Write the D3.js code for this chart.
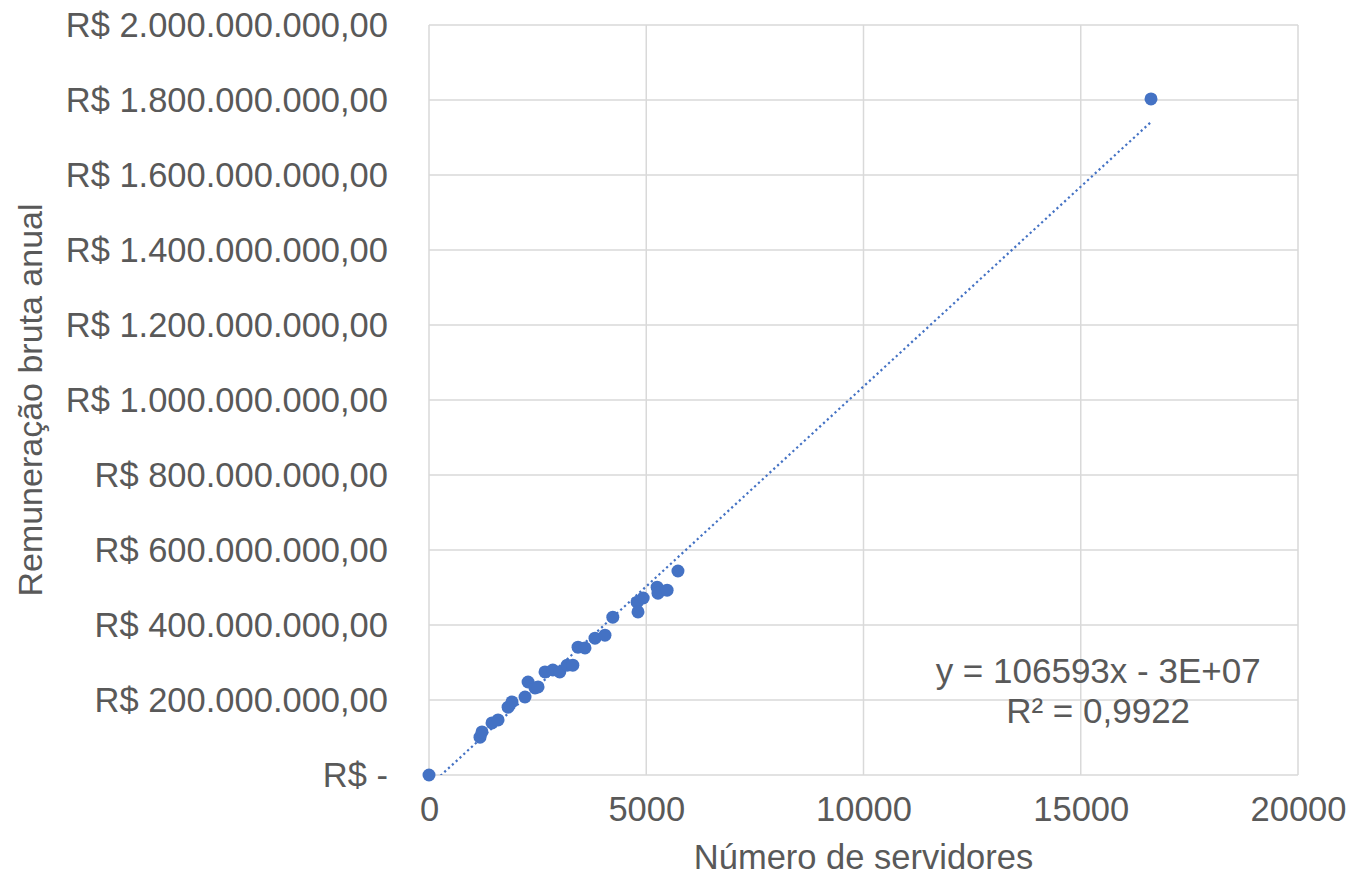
<!DOCTYPE html>
<html>
<head>
<meta charset="utf-8">
<script src="https://cdn.jsdelivr.net/npm/d3@7"></script>
<style>
  body { margin: 0; background: #fff; }
  text { font-family: "Liberation Sans", Arial, sans-serif; fill: #595959; }
</style>
</head>
<body>
<svg id="chart"></svg>
<script>
// servidores x remuneração
var servidores = [0, 1174, 1220, 1450, 1590, 1820, 1910, 2210, 2280, 2440, 2510, 2670, 2850, 3010,
                  3180, 3310, 3430, 3590, 3820, 4050, 4230, 4790, 4810, 4930, 5250, 5270, 5480, 5730, 16617];
var remuneracao = [0, 101e6, 115e6, 139e6, 147e6, 181e6, 195e6, 208e6, 248e6, 232e6, 235e6, 275e6, 280e6, 275e6,
                   293e6, 293e6, 341e6, 339e6, 365e6, 373e6, 421e6, 461e6, 435e6, 472e6, 501e6, 485e6, 493e6, 544e6, 1803e6];

var xTicks = [0, 5000, 10000, 15000, 20000];
var yTicks = [0, 2e8, 4e8, 6e8, 8e8, 1e9, 1.2e9, 1.4e9, 1.6e9, 1.8e9, 2e9];

var slope = 106593, intercept = -3e7;
var eqText = "y = 106593x - 3E+07";
var r2Text = "R² = 0,9922";

var W = 1351, H = 878;
var margin = {top: 25, right: 53, bottom: 103, left: 429};
var width = W - margin.left - margin.right,
    height = H - margin.top - margin.bottom;

var svg = d3.select("#chart").attr("width", W).attr("height", H);
var g = svg.append("g").attr("transform", "translate(" + margin.left + "," + margin.top + ")");

var x = d3.scaleLinear().domain([0, 20000]).range([0, width]);
var y = d3.scaleLinear().domain([0, 2e9]).range([height, 0]);

function fmtReal(v) {
  if (v === 0) return "R$ -";
  var s = d3.format(",")(v).replace(/,/g, ".");
  return "R$ " + s + ",00";
}

// gridlines
g.append("g").selectAll("line").data(yTicks).enter().append("line")
  .attr("x1", 0).attr("x2", width)
  .attr("y1", function(d){ return y(d); }).attr("y2", function(d){ return y(d); })
  .attr("stroke", "#d9d9d9").attr("stroke-width", 1.5);
g.append("g").selectAll("line").data(xTicks).enter().append("line")
  .attr("y1", 0).attr("y2", height)
  .attr("x1", function(d){ return x(d); }).attr("x2", function(d){ return x(d); })
  .attr("stroke", "#d9d9d9").attr("stroke-width", 1.5);

// axes (labels only)
var xAxis = g.append("g").attr("transform", "translate(0," + height + ")")
  .call(d3.axisBottom(x).tickValues(xTicks).tickFormat(d3.format("d")).tickSize(0).tickPadding(22));
var yAxis = g.append("g")
  .call(d3.axisLeft(y).tickValues(yTicks).tickFormat(fmtReal).tickSize(0).tickPadding(41));
[xAxis, yAxis].forEach(function(a){
  a.select(".domain").remove();
  a.selectAll("text").attr("font-size", 34.5).attr("font-family", "Liberation Sans, Arial, sans-serif").style("fill", "#595959");
});

// trendline
var clip = svg.append("clipPath").attr("id", "plotclip").append("rect")
  .attr("width", width).attr("height", height);
var xMax = d3.max(servidores);
g.append("line")
  .attr("clip-path", "url(#plotclip)")
  .attr("x1", x(0)).attr("y1", y(intercept))
  .attr("x2", x(xMax)).attr("y2", y(slope * xMax + intercept))
  .attr("stroke", "#4472c4").attr("stroke-width", 2.2)
  .attr("stroke-dasharray", "2.2,3");

// points
g.append("g").selectAll("circle").data(servidores).enter().append("circle")
  .attr("cx", function(d){ return x(d); })
  .attr("cy", function(d, i){ return y(remuneracao[i]); })
  .attr("r", 6.5)
  .attr("fill", "#4472c4");

// trendline label
var lab = g.append("text").attr("text-anchor", "middle").attr("font-size", 35)
  .attr("x", x(15400)).attr("y", y(246e6));
lab.append("tspan").attr("x", x(15400)).text(eqText);
lab.append("tspan").attr("x", x(15400)).attr("dy", 40).text(r2Text);

// axis titles
svg.append("text").attr("text-anchor", "middle").attr("font-size", 34.5)
  .attr("x", margin.left + width / 2).attr("y", 869)
  .text("Número de servidores");
svg.append("text").attr("text-anchor", "middle").attr("font-size", 34)
  .attr("transform", "translate(42," + (margin.top + height / 2) + ") rotate(-90)")
  .text("Remuneração bruta anual");
</script>
</body>
</html>
